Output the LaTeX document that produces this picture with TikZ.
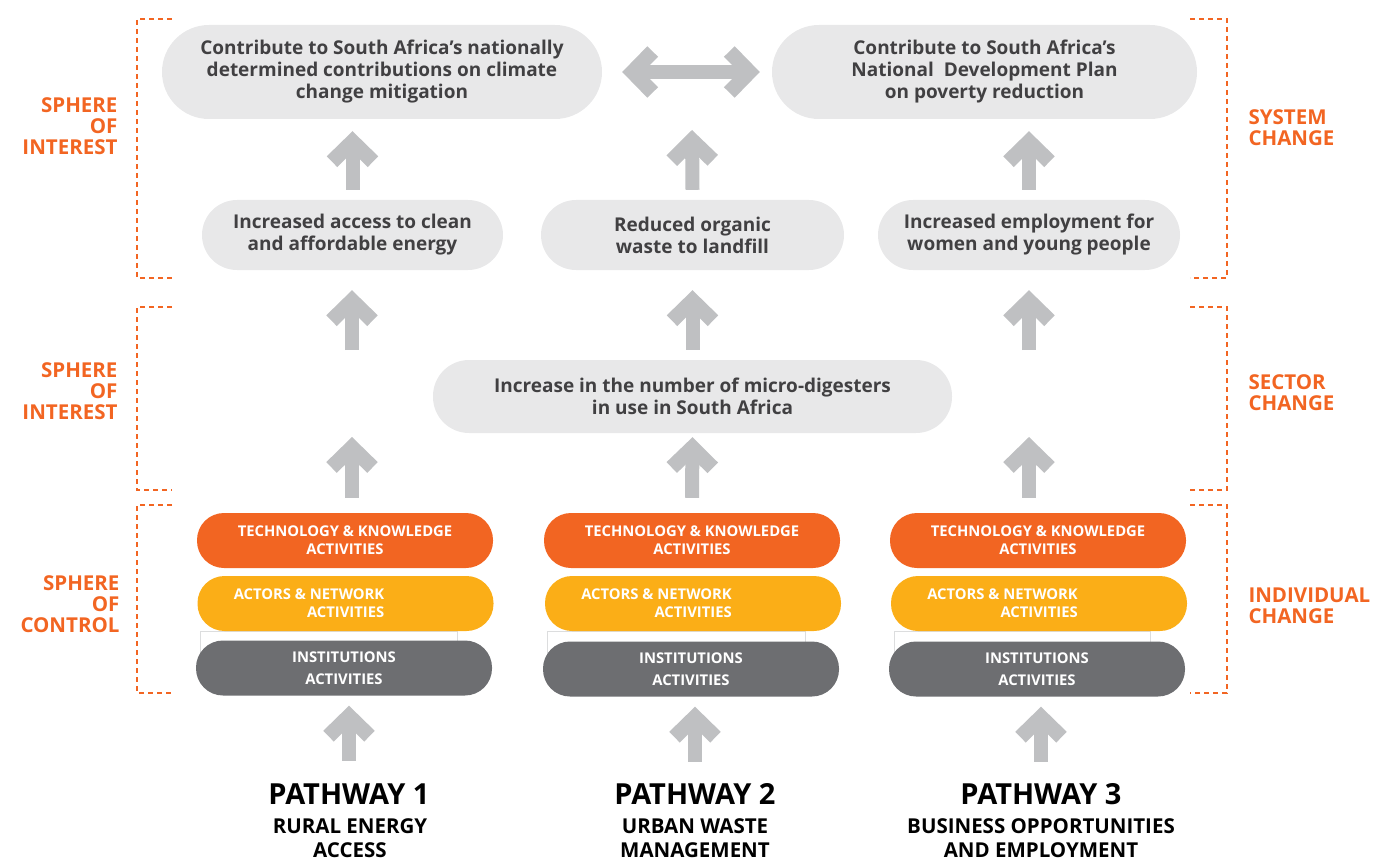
\documentclass[tikz,border=0pt]{standalone}
\usepackage{fontspec}
\setmainfont{Open Sans}
\usetikzlibrary{arrows.meta, calc}

\definecolor{orangeA}{HTML}{F26522}
\definecolor{yellowA}{HTML}{FBAE17}
\definecolor{greyA}{HTML}{6D6E71}
\definecolor{boxfill}{HTML}{E8E8E9}
\definecolor{textgrey}{HTML}{414042}
\definecolor{arrowgrey}{HTML}{BFC0C2}
\definecolor{frameline}{HTML}{DCDDDE}

\tikzset{
  >={Straight Barb[length = 20pt, width = 41pt, line width = 15pt]},
  goal/.style = {fill = boxfill, text = textgrey, font = \bfseries\fontsize{19}{22}\selectfont, align = center, inner sep = 0pt},
  activity/.style = {rounded corners = 27pt, text = white, font = \bfseries\fontsize{14.8}{18}\selectfont, align = center, minimum width = 296pt, minimum height = 55pt, inner sep = 0pt},
  bigup/.style = {arrowgrey, line width = 14pt, ->},
  bracket/.style = {orangeA, line width = 2pt, dash pattern = on 5pt off 4pt},
  sphere/.style = {orangeA, font = \bfseries\fontsize{20.5}{21}\selectfont, align = right, anchor = east},
  change/.style = {orangeA, font = \bfseries\fontsize{20.5}{21}\selectfont, align = left, anchor = west},
  pathway/.style = {font = \bfseries\fontsize{29}{30}\selectfont},
  pathsub/.style = {font = \bfseries\fontsize{20.5}{24}\selectfont, align = center},
}

\begin{document}
\begin{tikzpicture}[x = 1pt, y = -1pt]
  \useasboundingbox (0, 0) rectangle (1395, 861);

  % brackets and sphere labels
  \draw[bracket] (172, 19) -- (137, 19) -- (137, 278) -- (172, 278);
  \draw[bracket] (172, 307) -- (137, 307) -- (137, 490) -- (172, 490);
  \draw[bracket] (172, 505) -- (137, 505) -- (137, 693) -- (172, 693);
  \draw[bracket] (1190, 19) -- (1227, 19) -- (1227, 278) -- (1190, 278);
  \draw[bracket] (1190, 307) -- (1227, 307) -- (1227, 490) -- (1190, 490);
  \draw[bracket] (1190, 505) -- (1227, 505) -- (1227, 693) -- (1190, 693);

  \node[sphere] (sph1) at (121, 126) {SPHERE\\OF\\INTEREST};
  \node[sphere] (sph2) at (121, 391) {SPHERE\\OF\\INTEREST};
  \node[sphere] (sph3) at (123, 604) {SPHERE\\OF\\CONTROL};
  \node[change] (chg1) at (1245, 128) {SYSTEM\\CHANGE};
  \node[change] (chg2) at (1245, 393) {SECTOR\\CHANGE};
  \node[change] (chg3) at (1245, 606) {INDIVIDUAL\\CHANGE};

  % goals
  \node[goal, minimum width = 440pt, minimum height = 94pt, rounded corners = 47pt] (ndc) at (382, 72)
    {Contribute to South Africa’s nationally\\determined contributions on climate\\change mitigation};
  \node[goal, minimum width = 425pt, minimum height = 94pt, rounded corners = 47pt] (ndp) at (984.5, 72)
    {Contribute to South Africa’s\\National\ \ Development Plan\\on poverty reduction};
  \node[goal, minimum width = 301pt, minimum height = 70pt, rounded corners = 35pt] (energy) at (352.5, 235)
    {Increased access to clean\\and affordable energy};
  \node[goal, minimum width = 303pt, minimum height = 70pt, rounded corners = 35pt] (waste) at (692.5, 235)
    {Reduced organic\\waste to landfill};
  \node[goal, minimum width = 302pt, minimum height = 70pt, rounded corners = 35pt] (jobs) at (1029, 235)
    {Increased employment for\\women and young people};
  \node[goal, minimum width = 519pt, minimum height = 73pt, rounded corners = 36pt] (digest) at (692.5, 396.5)
    {Increase in the number of micro-digesters\\in use in South Africa};

  % activity stacks
  \draw[frameline, line width = 0.8pt] (200, 631) rectangle (457, 652);
  \draw[frameline, line width = 0.8pt] (547, 631) rectangle (805, 652);
  \draw[frameline, line width = 0.8pt] (894, 631) rectangle (1150, 652);

  \node[activity, fill = orangeA] (tech1) at (345, 540.5) {TECHNOLOGY \& KNOWLEDGE\\ACTIVITIES};
  \node[activity, fill = orangeA] (tech2) at (692, 540.5) {TECHNOLOGY \& KNOWLEDGE\\ACTIVITIES};
  \node[activity, fill = orangeA] (tech3) at (1038, 540.5) {TECHNOLOGY \& KNOWLEDGE\\ACTIVITIES};

  \node[activity, fill = yellowA] (act1) at (345.5, 603.5) {};
  \node[activity, fill = yellowA] (act2) at (693, 603.5) {};
  \node[activity, fill = yellowA] (act3) at (1039, 603.5) {};
  \node[activity, minimum width = 0pt, minimum height = 0pt, align = right, anchor = east] (act1t) at ($(act1.center) + (39, 0)$) {ACTORS \& NETWORK\\ACTIVITIES};
  \node[activity, minimum width = 0pt, minimum height = 0pt, align = right, anchor = east] (act2t) at ($(act2.center) + (39, 0)$) {ACTORS \& NETWORK\\ACTIVITIES};
  \node[activity, minimum width = 0pt, minimum height = 0pt, align = right, anchor = east] (act3t) at ($(act3.center) + (39, 0)$) {ACTORS \& NETWORK\\ACTIVITIES};

  \node[activity, fill = greyA] (inst1) at (344, 668) {INSTITUTIONS\\[4pt]ACTIVITIES};
  \node[activity, fill = greyA] (inst2) at (691, 669) {INSTITUTIONS\\[4pt]ACTIVITIES};
  \node[activity, fill = greyA] (inst3) at (1037, 669) {INSTITUTIONS\\[4pt]ACTIVITIES};

  % pathways
  \node[pathway] (pw1) at (349, 794) {PATHWAY 1};
  \node[pathway] (pw2) at (695, 794) {PATHWAY 2};
  \node[pathway] (pw3) at (1041, 794) {PATHWAY 3};
  \node[pathsub] (sub1) at (350, 838) {RURAL ENERGY\\ACCESS};
  \node[pathsub] (sub2) at (695, 838) {URBAN WASTE\\MANAGEMENT};
  \node[pathsub] (sub3) at (1041, 838) {BUSINESS OPPORTUNITIES\\AND EMPLOYMENT};

  % free arrow ends
  \coordinate (col1lo) at (352, 437);
  \coordinate (col1hi) at (352, 350);
  \coordinate (col2top) at (692, 130);
  \coordinate (col3lo) at (1029, 437);
  \coordinate (col3hi) at (1029, 350);

  % arrows
  \draw[bigup] ($(inst1.south -| pw1) + (0, 65)$) -- ($(inst1.south -| pw1) + (0, 10)$);
  \draw[bigup] ($(inst2.south -| pw2) + (0, 65)$) -- ($(inst2.south -| pw2) + (0, 10)$);
  \draw[bigup] ($(inst3.south -| pw3) + (0, 65)$) -- ($(inst3.south -| pw3) + (0, 10)$);

  \draw[bigup] ($(tech1.north -| col1lo) + (0, -15)$) -- (col1lo);
  \draw[bigup] ($(tech2.north) + (0, -15)$) -- ($(digest.south) + (0, 4)$);
  \draw[bigup] ($(tech3.north -| col3lo) + (0, -15)$) -- (col3lo);

  \draw[bigup] (col1hi) -- ($(energy.south -| col1hi) + (0, 20)$);
  \draw[bigup] ($(digest.north) + (0, -10)$) -- ($(waste.south) + (0, 20)$);
  \draw[bigup] (col3hi) -- ($(jobs.south -| col3hi) + (0, 20)$);

  \draw[bigup] ($(energy.north) + (0, -10)$) -- ($(ndc.south -| energy) + (0, 12)$);
  \draw[bigup] ($(waste.north) + (0, -10)$) -- (col2top);
  \draw[bigup] ($(jobs.north) + (0, -10)$) -- ($(ndp.south -| jobs) + (0, 12)$);

  \draw[bigup, <->] ($(ndc.east) + (20, 0)$) -- ($(ndp.west) + (-12, 0)$);
\end{tikzpicture}
\end{document}
